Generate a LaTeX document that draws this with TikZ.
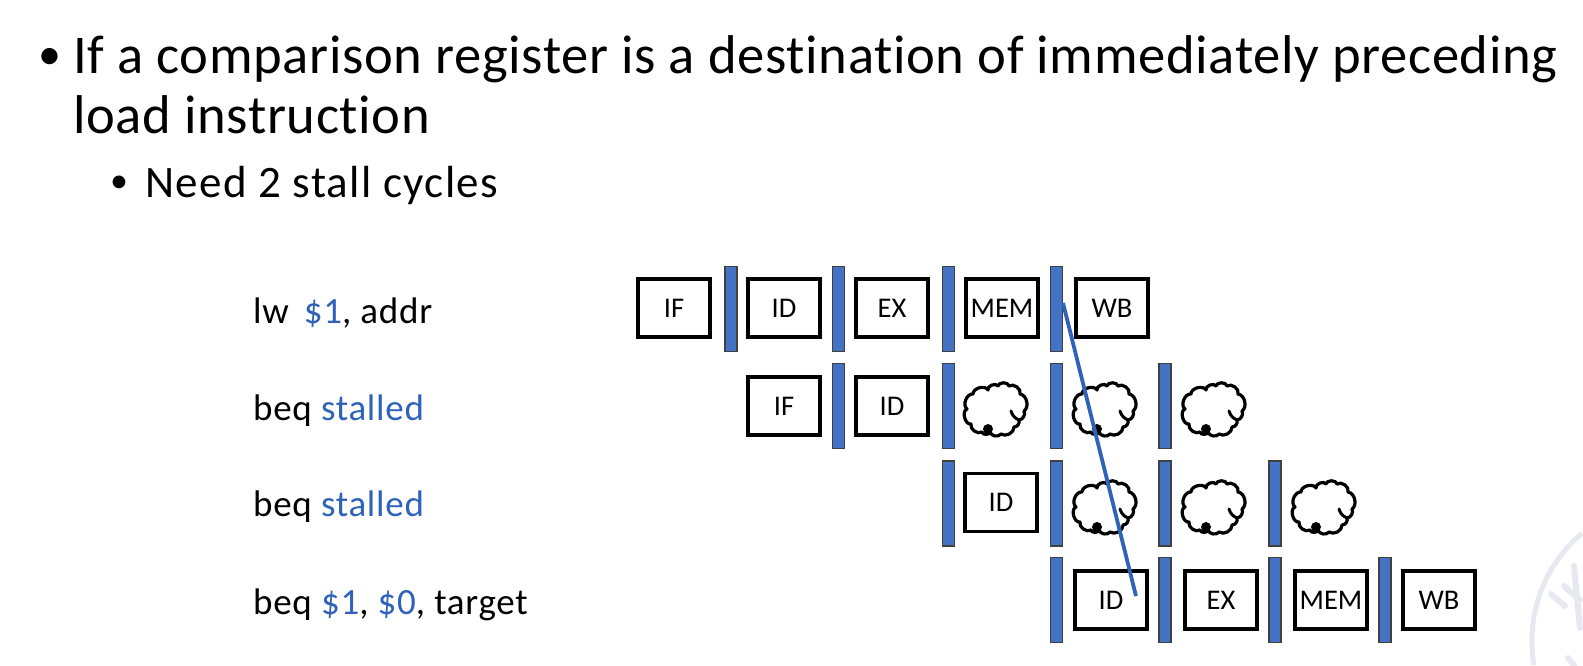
\documentclass[tikz,border=0pt]{standalone}
\usepackage{fontspec}
\setmainfont{Carlito}[Ligatures=NoCommon]
\newfontfamily\headf{Carlito}[LetterSpace=1.2,Ligatures=NoCommon]
\newfontfamily\subf{Carlito}[LetterSpace=3,Ligatures=NoCommon]
\newfontfamily\lblf{Carlito}[LetterSpace=2,Ligatures=NoCommon]
\definecolor{barblue}{HTML}{4472C4}
\definecolor{txtblue}{HTML}{2F62B8}
\definecolor{seal}{HTML}{E6E9EF}
\newcommand{\fs}[1]{\fontsize{#1}{#1}\selectfont}
\tikzset{
  stagebox/.style={draw=black,line width=3.4pt,fill=white,minimum width=72pt,minimum height=58pt,inner sep=0pt,font=\fs{28.5}},
  pipebar/.style={draw=black!75,line width=1.3pt,fill=barblue,minimum width=12pt,minimum height=85pt,inner sep=0pt},
  lbl/.style={anchor=base west,inner sep=0pt,font=\lblf\fs{37}},
  head/.style={anchor=base west,inner sep=0pt,font=\headf\fs{54.6}},
  sub/.style={anchor=base west,inner sep=0pt,font=\subf\fs{45}},
  bul/.style={anchor=base west,inner sep=0pt},
  stallcloud/.pic={
    \draw[line width=3.2pt,line cap=round,line join=round]
      (-13,21) to[bend left=70] (-24,13) to[bend left=85] (-28,-2) to[bend left=75] (-22,-17)
      to[bend left=75] (-7,-21) to[bend left=85] (3,-25) to[bend left=85] (14,-25)
      to[bend left=75] (25,-17) to[bend left=70] (29,0) to[bend left=55] (24,9)
      to[bend left=55] (19,16) to[bend left=65] (6,23) to[bend left=65] (-5,21)
      to[bend left=90] cycle;
    \draw[line width=3pt,line cap=round] (16,0) to[bend right=25] (24,9);
    \fill (-7,18) circle (5);
  }
}
\begin{document}
\begin{tikzpicture}[x=1pt,y=-1pt]
\useasboundingbox (0,0) rectangle (1583,665);
% seal watermark
\draw[seal,line width=5pt] (1534,665) arc[start angle=170,end angle=230,radius=140];
\draw[seal,line width=6pt,line cap=round] (1551,594) -- (1565,606) (1564,586) -- (1580,600) (1574,566) -- (1580,628) (1568,658) -- (1574,665);
% heading
\node[bul,font=\fs{46}] (b1) at (38,69) {•};
\node[head] (t1) at (73,73.5) {If a comparison register is a destination of immediately preceding};
\node[head] (t2) at (73,133) {load instruction};
\node[bul,font=\fs{36}] (b2) at (110,192) {•};
\node[sub] (t3) at (145,197) {Need 2 stall cycles};
% instruction labels
\node[lbl] (l1) at (253,323) {lw\hspace{15pt}\textcolor{txtblue}{\$1}, addr};
\node[lbl] (l2) at (253,420) {beq \textcolor{txtblue}{stalled}};
\node[lbl] (l3) at (253,516) {beq \textcolor{txtblue}{stalled}};
\node[lbl] (l4) at (253,614) {beq \textcolor{txtblue}{\$1}, \textcolor{txtblue}{\$0}, target};
% bars
\foreach \n/\x/\y in {a1/731/309,a2/838.5/309,a3/948.5/309,a4/1056.5/309,
  b1/838.5/406,b2/948.5/406,b3/1056.5/406,b4/1165/406,
  c1/948.5/503.5,c2/1056.5/503.5,c3/1165/503.5,c4/1275/503.5,
  d1/1056.5/600,d2/1165/600,d3/1275/600,d4/1385/600}
  \node[pipebar] (bar\n) at (\x,\y) {};
% boxes
\node[stagebox] (r1if)  at (674,308) {IF};
\node[stagebox] (r1id)  at (784,308) {ID};
\node[stagebox] (r1ex)  at (892,308) {EX};
\node[stagebox] (r1mem) at (1002,308) {MEM};
\node[stagebox] (r1wb)  at (1112,308) {WB};
\node[stagebox] (r2if)  at (784,406) {IF};
\node[stagebox] (r2id)  at (892,406) {ID};
\node[stagebox] (r3id)  at (1001,502.5) {ID};
\node[stagebox] (r4id)  at (1111,600) {ID};
\node[stagebox] (r4ex)  at (1221,600) {EX};
\node[stagebox] (r4mem) at (1331,600) {MEM};
\node[stagebox] (r4wb)  at (1439,600) {WB};
% clouds
\foreach \x/\y in {995/411,1104/411,1213/411,1104/509,1213/509,1323/509}
  \pic at (\x,\y) {stallcloud};
% forwarding line
\coordinate (src) at (1063,303);
\coordinate (dst) at (1136,596);
\draw[txtblue,line width=3.8pt] (src) -- (dst);
\end{tikzpicture}
\end{document}
